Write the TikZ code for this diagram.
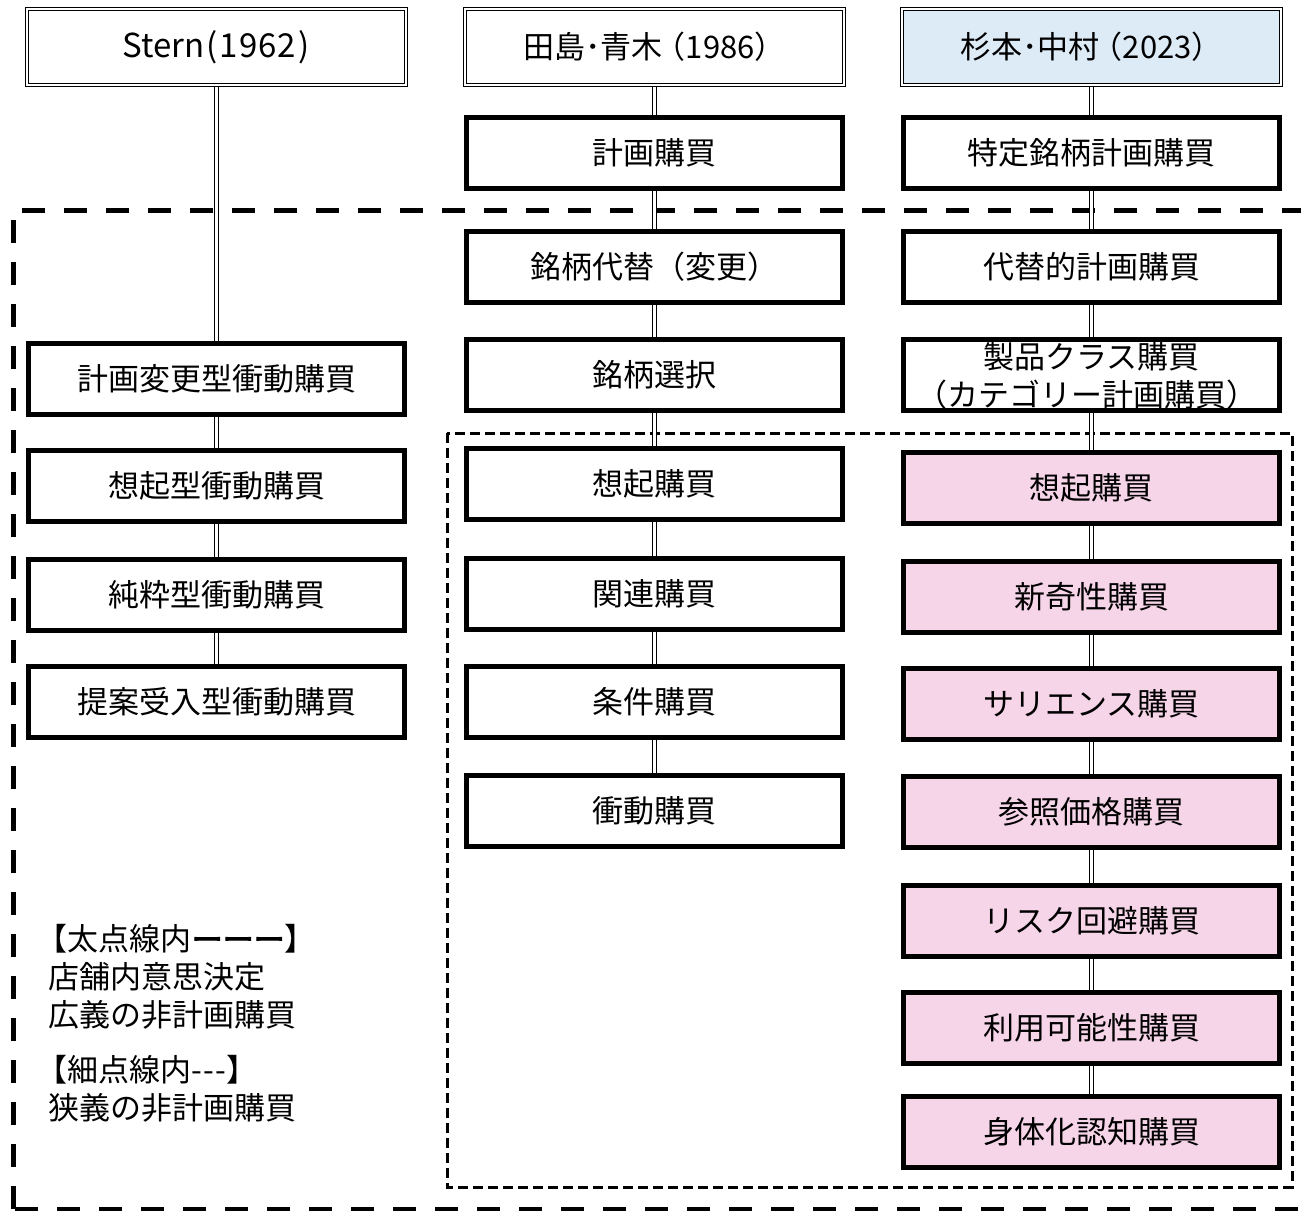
\documentclass[tikz,border=0pt]{standalone}
\usepackage{fontspec}
\setmainfont{Noto Sans CJK JP}
\newfontfamily\jpbold[FakeBold=3]{Noto Sans CJK JP}
\usetikzlibrary{backgrounds}
\definecolor{pinkfill}{RGB}{247,213,233}
\definecolor{bluefill}{RGB}{221,235,247}
\begin{document}
\begin{tikzpicture}[x=1pt,y=-1pt,
  every node/.style={font=\fontsize{31}{38}\selectfont},
  box/.style={draw,line width=5pt,fill=white,minimum width=376pt,minimum height=71pt,inner sep=0pt},
  pbox/.style={box,fill=pinkfill},
  head/.style={draw,double,line width=1.4pt,double distance=1.6pt,fill=white,minimum width=379pt,minimum height=76pt,inner sep=0pt},
  headtext/.style={font=\fontsize{33}{38}\selectfont},
  conn/.style={draw,double,line width=1.2pt,double distance=2.2pt},
  thickdash/.style={line width=5pt,dash pattern=on 23pt off 19pt},
  thindash/.style={line width=3pt,dash pattern=on 10pt off 5pt},
  legend/.style={anchor=west,inner sep=0pt}]
\useasboundingbox (0,0) rectangle (1301,1210);
\clip (0,0) rectangle (1301,1210);

% left column
\node[head,headtext] (L0) at (216.5,47) {Stern\kern0.06em(\kern0.06em1\kern0.03em9\kern0.03em6\kern0.03em2\kern0.08em)};
\node[box] (L1) at (216.5,378.5) {計画変更型衝動購買};
\node[box] (L2) at (216.5,485.5) {想起型衝動購買};
\node[box] (L3) at (216.5,594.5) {純粋型衝動購買};
\node[box] (L4) at (216.5,701.5) {提案受入型衝動購買};

% middle column
\node[head] (M0) at (654.5,47) {田島･青木\kern-0.25em（1986）};
\node[box] (M1) at (654.5,152.5) {計画購買};
\node[box] (M2) at (654.5,266.5) {銘柄代替（変更）};
\node[box] (M3) at (654.5,375) {銘柄選択};
\node[box] (M4) at (654.5,484) {想起購買};
\node[box] (M5) at (654.5,593.5) {関連購買};
\node[box] (M6) at (654.5,701.5) {条件購買};
\node[box] (M7) at (654.5,810.5) {衝動購買};

% right column
\node[head,fill=bluefill] (R0) at (1091.5,47) {杉本･中村\kern-0.25em（2023）};
\node[box] (R1) at (1091.5,152.5) {特定銘柄計画購買};
\node[box] (R2) at (1091.5,266.5) {代替的計画購買};
\node[box] (R3) at (1091.5,375) {};
\node[inner sep=0pt,align=center] (R3t) at (1091.5,376) {製品クラス購買\\\kern-0.3em（カテゴリー計画購買）};
\node[pbox] (R4) at (1091.5,488) {想起購買};
\node[pbox] (R5) at (1091.5,596.5) {新奇性購買};
\node[pbox] (R6) at (1091.5,704) {サリエンス購買};
\node[pbox] (R7) at (1091.5,811.5) {参照価格購買};
\node[pbox] (R8) at (1091.5,920.5) {リスク回避購買};
\node[pbox] (R9) at (1091.5,1028) {利用可能性購買};
\node[pbox] (R10) at (1091.5,1132) {身体化認知購買};

% legend
\node[legend] (lg1) at (48,939) {\kern-0.37em【太点線内{\jpbold ーーー}】};
\node[legend] (lg2) at (48,977) {店舗内意思決定};
\node[legend] (lg3) at (48,1015) {広義の非計画購買};
\node[legend] (lg4) at (48,1070) {\kern-0.37em【細点線内-\kern0.04em-\kern0.04em-】};
\node[legend] (lg5) at (48,1108) {狭義の非計画購買};

\begin{scope}[on background layer]
  \draw[thickdash] (22,210) -- (1330,210);
  \draw[thickdash] (13,220) -- (13,1209);
  \draw[thickdash] (15,1209) -- (1330,1209);
  \draw[thindash] (447,433) rectangle (1292,1187);
  \draw[conn] (L0) -- (L1);
  \draw[conn] (L1) -- (L2);
  \draw[conn] (L2) -- (L3);
  \draw[conn] (L3) -- (L4);
  \draw[conn] (M0) -- (M1);
  \draw[conn] (M1) -- (M2);
  \draw[conn] (M2) -- (M3);
  \draw[conn] (M3) -- (M4);
  \draw[conn] (M4) -- (M5);
  \draw[conn] (M5) -- (M6);
  \draw[conn] (M6) -- (M7);
  \draw[conn] (R0) -- (R1);
  \draw[conn] (R1) -- (R2);
  \draw[conn] (R2) -- (R3);
  \draw[conn] (R3) -- (R4);
  \draw[conn] (R4) -- (R5);
  \draw[conn] (R5) -- (R6);
  \draw[conn] (R6) -- (R7);
  \draw[conn] (R7) -- (R8);
  \draw[conn] (R8) -- (R9);
  \draw[conn] (R9) -- (R10);
\end{scope}
\end{tikzpicture}
\end{document}
